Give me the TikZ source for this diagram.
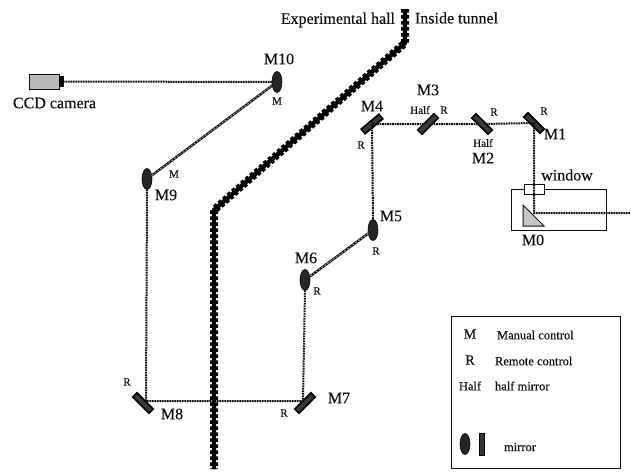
\documentclass[tikz,border=0pt]{standalone}
\usepackage{fontspec}
\setmainfont[FakeBold=0.2]{Liberation Serif}
\usetikzlibrary{shapes.geometric}
\definecolor{ink}{gray}{0.05}
\newcommand{\lab}{\fontsize{16}{18}\selectfont}
\newcommand{\sm}{\fontsize{11}{13}\selectfont}
\newcommand{\leg}{\fontsize{12.5}{14}\selectfont}
\tikzset{
  x=1pt,y=-1pt,
  every node/.style={inner sep=0pt,outer sep=0pt,text=ink},
  beam/.style={draw=ink,line width=2pt,dash pattern=on 1.6pt off 0.9pt},
  solidbeam/.style={draw=ink,line width=2.4pt},
  solidcore/.style={draw=white!70!black,line width=0.8pt,dash pattern=on 2pt off 1.5pt},
  wallcore/.style={draw=black,line width=4.4pt,line join=round},
  wallblobs/.style={draw=black,line width=8pt,dash pattern=on 3.6pt off 2.4pt},
  rectmirror/.style={draw=black,line width=1.7pt,fill=gray!45!black,minimum width=23pt,minimum height=6pt},
  ovalmirror/.style={draw=black,ellipse,fill=gray!30!black,line width=0.6pt,minimum width=10pt,minimum height=21pt},
  biglabel/.style={font=\lab},
  smlabel/.style={font=\sm},
  leglabel/.style={font=\leg,anchor=west},
  thinbox/.style={draw=ink,line width=0.9pt},
}
\begin{document}
\begin{tikzpicture}
\useasboundingbox (0,0) rectangle (631,471);
% wall
\coordinate (w1) at (405,9);
\coordinate (w2) at (405,43);
\coordinate (w3) at (214,210);
\coordinate (w4) at (214,469);
\draw[wallcore] (w1) -- (w2) -- (w3) -- (w4);
\draw[wallblobs] (w1) -- (w2) -- (w3) -- (w4);
% housing
\node[thinbox,fill=white,minimum width=95pt,minimum height=41pt] (house) at (558.5,209.5) {};
\node[thinbox,fill=white,minimum width=20pt,minimum height=10.5pt] (win) at (534,189.5) {};
\filldraw[draw=ink,line width=1pt,fill=gray!45] (523,205) -- (523,226) -- (544,226) -- cycle;
% camera
\node[draw=ink,line width=0.7pt,fill=gray!55,minimum width=30pt,minimum height=15pt] (cam) at (44,81.5) {};
\node[fill=black,minimum width=5pt,minimum height=11pt] (lens) at (61.5,81.5) {};
% mirrors
\node[rectmirror,rotate=-45] (m1) at (534,123) {};
\node[rectmirror,rotate=-45] (m2) at (482,124) {};
\node[rectmirror,rotate=45] (m3) at (428,124) {};
\node[rectmirror,rotate=40] (m4) at (372,124) {};
\node[ovalmirror] (m5) at (373,230) {};
\node[ovalmirror] (m6) at (305,280) {};
\node[rectmirror,rotate=45] (m7) at (305,403) {};
\node[rectmirror,rotate=-45] (m8) at (143,403) {};
\node[ovalmirror] (m9) at (147,179) {};
\node[ovalmirror] (m10) at (277,82) {};
\coordinate (m0) at (534,213);
\coordinate (out) at (630,213);
% beams
\draw[beam] (out) -- (m0) -- (m1.center) -- (m2) -- (m3) -- (m4.center) -- (m5.north);
\draw[solidbeam] (m5) -- (m6);
\draw[solidcore] (m5) -- (m6);
\draw[beam] (m6.south) -- (303,401) -- (146,401) -- (m9.south);
\draw[solidbeam] (m9) -- (m10);
\draw[solidcore] (m9) -- (m10);
\draw[beam] (m10.west) -- (lens);
% labels
\node[biglabel,anchor=east] (t1) at (395,20) {Experimental hall};
\node[biglabel,anchor=west] (t2) at (415,18) {Inside tunnel};
\node[biglabel] (l10) at (279,59) {M10};
\node[smlabel] (s10) at (277,101) {M};
\node[biglabel,anchor=west] (lcam) at (13,103) {CCD camera};
\node[smlabel] (s9) at (174,174) {M};
\node[biglabel] (l9) at (166,195) {M9};
\node[biglabel] (l4) at (372,106) {M4};
\node[smlabel] (r4) at (361,145) {R};
\node[biglabel] (l3) at (428,90) {M3};
\node[smlabel] (h3) at (420,110) {Half};
\node[smlabel] (r3) at (444,110) {R};
\node[smlabel] (r2) at (494,112) {R};
\node[smlabel] (h2) at (483,143) {Half};
\node[biglabel] (l2) at (483,158) {M2};
\node[smlabel] (r1) at (544,111) {R};
\node[biglabel] (l1) at (555,134) {M1};
\node[biglabel] (lw) at (567,175) {window};
\node[biglabel] (l0) at (533,240) {M0};
\node[biglabel] (l5) at (391,216) {M5};
\node[smlabel] (r5) at (376,251) {R};
\node[biglabel] (l6) at (306,258) {M6};
\node[smlabel] (r6) at (317,291) {R};
\node[biglabel] (l7) at (339,398) {M7};
\node[smlabel] (r7) at (284,413) {R};
\node[biglabel] (l8) at (172,414) {M8};
\node[smlabel] (r8) at (127,382) {R};
% legend
\node[thinbox,minimum width=169pt,minimum height=152pt] (legend) at (535.5,392) {};
\node[font=\fontsize{14}{16}\selectfont] (a1) at (470,334) {M};
\node[leglabel] (b1) at (497,335) {Manual control};
\node[font=\fontsize{14}{16}\selectfont] (a2) at (470,360) {R};
\node[leglabel] (b2) at (495,361) {Remote control};
\node[font=\leg] (a3) at (470,386) {Half};
\node[leglabel] (b3) at (495,386) {half mirror};
\node[ovalmirror] (e1) at (465,444) {};
\node[draw=black,line width=0.8pt,fill=gray!40!black,minimum width=5pt,minimum height=22pt] (e2) at (482,444) {};
\node[leglabel] (b4) at (504,447) {mirror};
\end{tikzpicture}
\end{document}
